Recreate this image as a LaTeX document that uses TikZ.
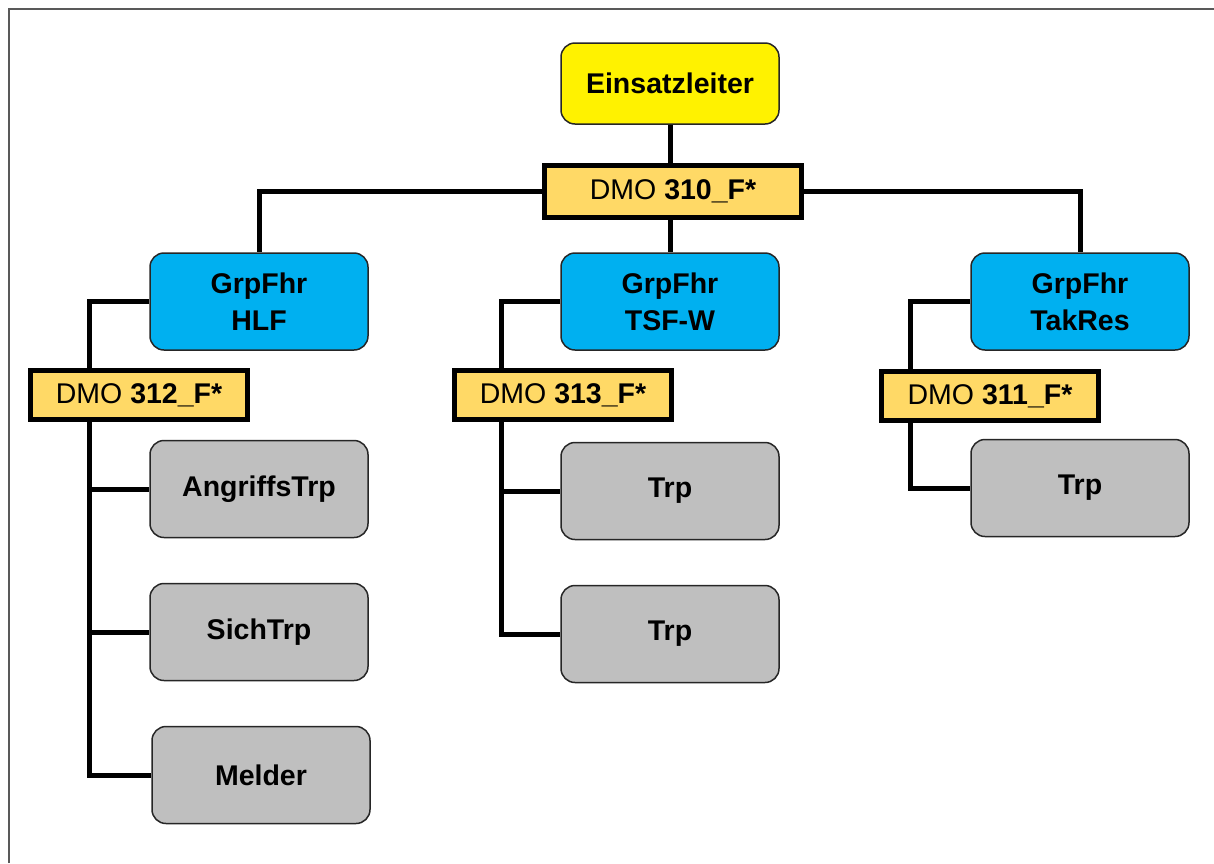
\documentclass[tikz,border=0pt]{standalone}
\usepackage{fontspec}
\setmainfont{Liberation Sans}
\begin{document}
\begin{tikzpicture}[x=1pt,y=-1pt,
  rbox/.style={draw=black!85,line width=1.5pt,rounded corners=14pt,minimum width=218pt,minimum height=97pt,align=center,font=\fontsize{28.5}{37}\selectfont\bfseries,inner sep=0pt},
  topbox/.style={rbox,fill=yellow,minimum height=81pt},
  grpbox/.style={rbox,fill=cblue},
  trpbox/.style={rbox,fill=cgray},
  dmobox/.style={draw=black,line width=5pt,fill=cdmo,minimum width=217pt,minimum height=49pt,font=\fontsize{28.5}{32}\selectfont,inner sep=0pt},
  conn/.style={line width=5pt,black,line join=miter}]
\definecolor{cblue}{HTML}{00B0F0}
\definecolor{cgray}{HTML}{BFBFBF}
\definecolor{cdmo}{HTML}{FFD966}
\definecolor{cframe}{HTML}{595959}
\useasboundingbox (0,0) rectangle (1214,863);
\draw[cframe,line width=2pt] (9,863) -- (9,9) -- (1214,9);
% nodes
\node[topbox] (el) at (670,83.5) {Einsatzleiter};
\node[dmobox,minimum width=257pt,minimum height=52pt] (d310) at (673,191.5) {DMO \textbf{310\_F*}};
\node[grpbox] (hlf) at (259,301.5) {GrpFhr\\HLF};
\node[grpbox] (tsf) at (670,301.5) {GrpFhr\\TSF-W};
\node[grpbox] (tak) at (1080,301.5) {GrpFhr\\TakRes};
\node[dmobox] (d312) at (139,395) {DMO \textbf{312\_F*}};
\node[dmobox] (d313) at (563,395) {DMO \textbf{313\_F*}};
\node[dmobox] (d311) at (990,396) {DMO \textbf{311\_F*}};
\node[trpbox] (angr) at (259,489) {AngriffsTrp};
\node[trpbox] (sich) at (259,632) {SichTrp};
\node[trpbox] (meld) at (261,775) {Melder};
\node[trpbox] (trpa) at (670,491) {Trp};
\node[trpbox] (trpb) at (670,634) {Trp};
\node[trpbox] (trpc) at (1080,488) {Trp};
\coordinate (xa) at (89,0);
\coordinate (xb) at (501,0);
\coordinate (xc) at (910,0);
% connectors
\draw[conn] (el.south) -- (el.south |- d310.north);
\draw[conn] (tsf.north |- d310.south) -- (tsf.north);
\draw[conn] (d310.west) -| (hlf.north);
\draw[conn] (d310.east) -| (tak.north);
\draw[conn] (hlf.west) -| (xa |- d312.north);
\draw[conn] (xa |- d312.south) |- (meld.west);
\draw[conn] (xa |- angr.west) -- (angr.west);
\draw[conn] (xa |- sich.west) -- (sich.west);
\draw[conn] (tsf.west) -| (xb |- d313.north);
\draw[conn] (xb |- d313.south) |- (trpb.west);
\draw[conn] (xb |- trpa.west) -- (trpa.west);
\draw[conn] (tak.west) -| (xc |- d311.north);
\draw[conn] (xc |- d311.south) |- (trpc.west);
\end{tikzpicture}
\end{document}
